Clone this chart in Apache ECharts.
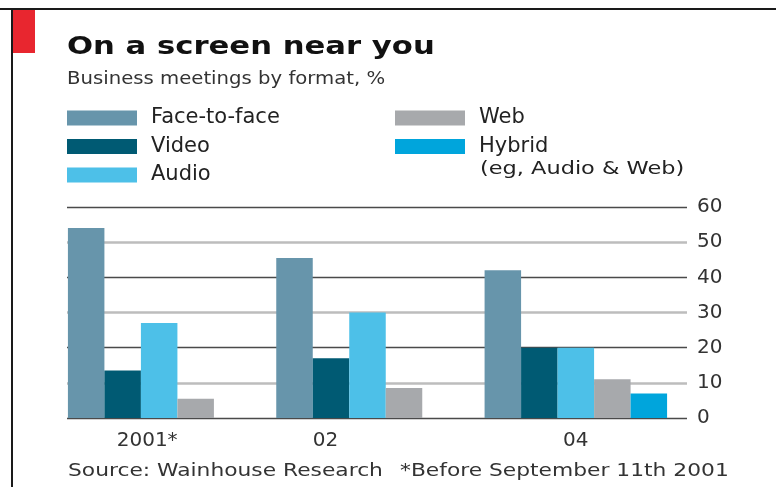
<!DOCTYPE html>
<html>
<head>
<meta charset="utf-8">
<script src="https://cdn.jsdelivr.net/npm/echarts@6/dist/echarts.min.js"></script>
<style>
  html, body { margin: 0; padding: 0; background: #fff; }
  #chart { width: 776px; height: 487px; }
</style>
</head>
<body>
<div id="chart"></div>
<script>
// data
const years = ['2001*', '02', '04'];
const faceToFace = [54, 45.5, 42];
const video = [13.5, 17, 20];
const audio = [27, 30, 20];
const web = [5.5, 8.5, 11];
const hybrid = [null, null, 7];
const yTicks = [0, 10, 20, 30, 40, 50, 60];

const FONT = 'DejaVu Sans';
const chart = echarts.init(document.getElementById('chart'));

// small nudges so the year labels sit where the reference has them
const labelRich = {
  a: { fontFamily: FONT, fontSize: 20, color: '#333', padding: [0, 24, 0, 0] },
  b: { fontFamily: FONT, fontSize: 20, color: '#333', padding: [0, 84, 0, 0] },
  c: { fontFamily: FONT, fontSize: 20, color: '#333' }
};

function bar(name, data, color) {
  return {
    name: name,
    type: 'bar',
    xAxisIndex: 1,
    yAxisIndex: 2,
    data: data,
    barWidth: 36.5,
    barGap: '0%',
    itemStyle: { color: color },
    z: 5
  };
}

// the reference type is quite wide, so the free texts get stretched a bit
function txt(str, x, y, size, sx, extra) {
  return {
    type: 'text', x: x, y: y, scaleX: sx,
    style: Object.assign({ text: str, fontFamily: FONT, fontSize: size, fill: '#333' }, extra || {})
  };
}

const legendText = { fontFamily: FONT, fontSize: 21, color: '#222', lineHeight: 22, padding: [0, 0, 0, 9] };

chart.setOption({
  animation: false,
  grid: [
    // grid lines + value labels
    { left: 67, right: 89, top: 207, bottom: 69 },
    // bars
    { left: 55, right: 96, top: 207, bottom: 69 }
  ],
  xAxis: [
    { type: 'category', gridIndex: 0, data: years, show: false },
    {
      type: 'category', gridIndex: 1, data: years,
      axisLine: { show: false }, axisTick: { show: false },
      axisLabel: {
        margin: 13,
        formatter: function (v, i) { return '{' + 'abc'[i] + '|' + v + '}'; },
        rich: labelRich
      }
    }
  ],
  yAxis: [
    {
      type: 'value', gridIndex: 0, position: 'right',
      min: 0, max: 60, interval: 10,
      axisLine: { show: false }, axisTick: { show: false },
      axisLabel: {
        margin: 10, fontFamily: FONT, fontSize: 20, color: '#333',
        formatter: function (v) { return yTicks.indexOf(v) >= 0 ? String(v) : ''; }
      },
      splitLine: { lineStyle: { color: ['#4a4a4a', 'rgba(0,0,0,0)'], width: 1.3 } }
    },
    {
      type: 'value', gridIndex: 0, position: 'right',
      min: 0, max: 60, interval: 10,
      axisLine: { show: false }, axisTick: { show: false }, axisLabel: { show: false },
      splitLine: { lineStyle: { color: ['rgba(0,0,0,0)', '#bdbdbd'], width: 2.5 } }
    },
    {
      type: 'value', gridIndex: 1, min: 0, max: 60, interval: 10, show: false,
      splitLine: { show: false }
    }
  ],
  legend: [
    {
      data: ['Face-to-face', 'Video', 'Audio'],
      orient: 'vertical', left: 67, top: 107, padding: 0,
      icon: 'rect', itemWidth: 70, itemHeight: 15, itemGap: 6.5,
      textStyle: legendText,
      selectedMode: false
    },
    {
      data: ['Web', 'Hybrid'],
      orient: 'vertical', left: 395, top: 107, padding: 0,
      icon: 'rect', itemWidth: 70, itemHeight: 15, itemGap: 6.5,
      textStyle: legendText,
      selectedMode: false
    }
  ],
  graphic: [
    { type: 'rect', shape: { x: 0, y: 8, width: 776, height: 2 }, style: { fill: '#1a1a1a' } },
    { type: 'rect', shape: { x: 11, y: 8, width: 2, height: 479 }, style: { fill: '#1a1a1a' } },
    { type: 'rect', shape: { x: 13, y: 10, width: 22, height: 43 }, style: { fill: '#e8262f' } },
    txt('On a screen near you', 67, 35, 25, 1.227, { fontWeight: 'bold', fill: '#111' }),
    txt('Business meetings by format, %', 67, 70, 18, 1.093),
    txt('(eg, Audio & Web)', 480, 161, 17, 1.32, { fill: '#222' }),
    txt('Source: Wainhouse Research', 68, 462, 18, 1.21),
    txt('*Before September 11th 2001', 400, 462, 18, 1.21)
  ],
  series: [
    bar('Face-to-face', faceToFace, '#6795ab'),
    bar('Video', video, '#005a73'),
    bar('Audio', audio, '#4dc0e8'),
    bar('Web', web, '#a7a9ac'),
    bar('Hybrid', hybrid, '#00a5dc')
  ]
});
</script>
</body>
</html>
